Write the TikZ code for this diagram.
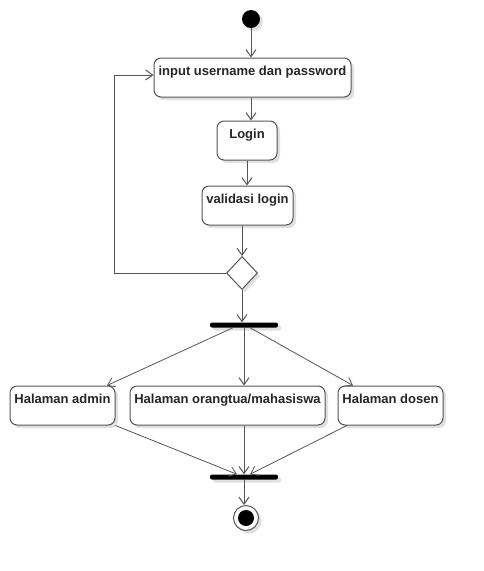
\documentclass[tikz,border=0pt]{standalone}
\usepackage{fontspec}
\setmainfont{Liberation Sans}
\usetikzlibrary{arrows.meta,shapes.geometric,shadows}
\definecolor{lin}{HTML}{555555}
\tikzset{
  shad/.style={drop shadow={shadow xshift=3pt,shadow yshift=-3pt,fill=black!12,opacity=1}},
  act/.style={draw=lin,line width=1pt,rounded corners=7pt,fill=white,shad,inner xsep=2pt,inner ysep=3pt,
    text height=14pt,text depth=19pt,font=\fontsize{13}{15}\selectfont\bfseries,text=black!85},
  bar/.style={fill=black,rounded corners=2pt,minimum width=68pt,minimum height=5pt,inner sep=0pt,shad},
  flow/.style={draw=lin,line width=1pt,-{Straight Barb[length=7pt,width=10pt]}},
  thin/.style={draw=lin,line width=0.8pt,-{Straight Barb[length=7pt,width=10pt]}}
}
\begin{document}
\begin{tikzpicture}[x=1pt,y=-1pt]
\useasboundingbox(0,0)rectangle(483,571);
\node[circle,fill=black,minimum size=18pt,inner sep=0pt,shad](start)at(251,19){};
\node[act,minimum width=197pt](inp)at(252.5,77.5){input username dan password};
\node[act,minimum width=60pt](login)at(247,140.5){Login};
\node[act,minimum width=91pt](valid)at(247.5,205.5){validasi login};
\node[diamond,draw=lin,line width=1pt,fill=white,minimum width=31pt,minimum height=33pt,inner sep=0pt,shad](dec)at(242,273){};
\node[bar](fork)at(244,325){};
\node[act,minimum width=105pt](adm)at(62.5,405.5){Halaman admin};
\node[act,minimum width=195pt](mhs)at(227.5,405.5){Halaman orangtua/mahasiswa};
\node[act,minimum width=105pt](dsn)at(390.5,405.5){Halaman dosen};
\node[bar](join)at(244,477){};
\node[circle,draw=lin,line width=1pt,fill=white,minimum size=25pt,inner sep=0pt,shad,
  path picture={\fill[black](path picture bounding box.center)circle(8pt);}](stop)at(246,518){};
%top part
\draw[flow](start)--(start|-inp.north);
\draw[flow](start|-inp.south)--(start|-login.north);
\draw[flow](login.south)--(login.south|-valid.north);
\draw[flow](dec.north|-valid.south)--(dec.north);
\draw[flow](dec.west)-|(114,75)--(inp.west|-0,75); %back to input
\draw[flow](dec.south)--(dec.south|-fork.north);
%fork
\draw[thin]([xshift=-11pt]fork.south)--([xshift=44.5pt]adm.north);
\draw[flow](fork.south)--(fork.south|-mhs.north);
\draw[thin]([xshift=6pt]fork.south)--([xshift=-37.5pt]dsn.north);
%join
\draw[thin](adm.south east)--([xshift=-7pt]join.north);
\draw[flow](join.north|-mhs.south)--(join.north);
\draw[thin]([xshift=-43.5pt]dsn.south)--([xshift=6pt]join.north);
\draw[flow](join.south)--(join.south|-stop.north);
\end{tikzpicture}
\end{document}
